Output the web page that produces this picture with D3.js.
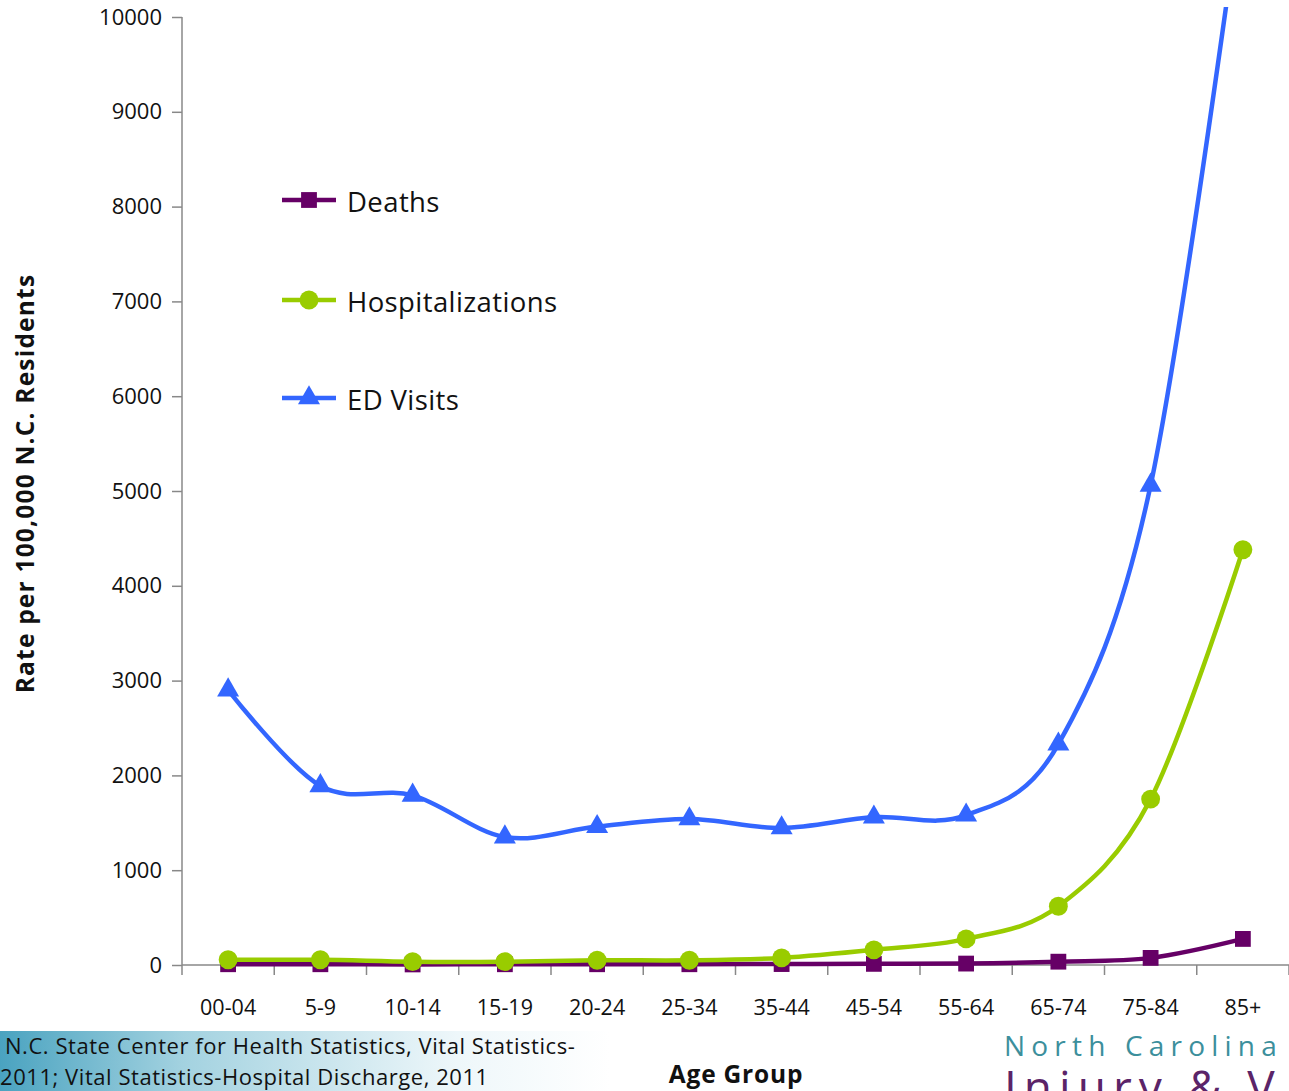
<!DOCTYPE html>
<html>
<head>
<meta charset="utf-8">
<script src="https://cdn.jsdelivr.net/npm/d3@7"></script>
<style>
  html, body { margin: 0; padding: 0; background: #fff; }
  svg { display: block; }
</style>
</head>
<body>
<svg id="chart" width="1289" height="1091"></svg>
<script>
// Injury rates by age group, per 100,000 N.C. residents
const ageGroups = ["00-04", "5-9", "10-14", "15-19", "20-24", "25-34", "35-44", "45-54", "55-64", "65-74", "75-84", "85+"];
const deaths = [8, 8, 6, 8, 8, 8, 10, 12, 15, 35, 75, 275];
const hospitalizations = [55, 55, 35, 35, 50, 50, 75, 160, 275, 620, 1750, 4380];
const edVisits = [2900, 1890, 1790, 1350, 1460, 1540, 1445, 1560, 1580, 2330, 5060, 11400];
const yTicks = [0, 1000, 2000, 3000, 4000, 5000, 6000, 7000, 8000, 9000, 10000];

const series = [
  { name: "Deaths", values: deaths, color: "#660066", marker: "square" },
  { name: "Hospitalizations", values: hospitalizations, color: "#99cc00", marker: "circle" },
  { name: "ED Visits", values: edVisits, color: "#3366ff", marker: "triangle" }
];

const svg = d3.select("#chart");
const font = "'Open Sans', 'Noto Sans', sans-serif";

const plotL = 182, plotR = 1289, plotT = 17, plotB = 965;
const x = d3.scaleBand().domain(ageGroups).range([plotL, plotR]);
const y = d3.scaleLinear().domain([0, 10000]).range([plotB, plotT]);

// Source note with fading background
const defs = svg.append("defs");
const grad = defs.append("linearGradient").attr("id", "srcFade").attr("x1", "0").attr("x2", "1");
grad.append("stop").attr("offset", "0").attr("stop-color", "#4aa3c0");
grad.append("stop").attr("offset", "0.3").attr("stop-color", "#a3d2e0");
grad.append("stop").attr("offset", "0.75").attr("stop-color", "#eef7fa");
grad.append("stop").attr("offset", "1").attr("stop-color", "#ffffff");
svg.append("rect").attr("x", 0).attr("y", 1031).attr("width", 610).attr("height", 60).attr("fill", "url(#srcFade)");
svg.append("text").attr("x", 5).attr("y", 1054).attr("font-family", font).attr("font-size", 22)
  .attr("letter-spacing", 0.55).attr("fill", "#111")
  .text("N.C. State Center for Health Statistics, Vital Statistics-");
svg.append("text").attr("x", 0).attr("y", 1085).attr("font-family", font).attr("font-size", 22)
  .attr("letter-spacing", 0.55).attr("fill", "#111")
  .text("2011; Vital Statistics-Hospital Discharge, 2011");

// Y axis
const yAxis = svg.append("g").attr("transform", `translate(${plotL},0)`)
  .call(d3.axisLeft(y).tickValues(yTicks).tickSize(10).tickSizeOuter(0).tickPadding(10).tickFormat(d3.format("d")));
yAxis.select(".domain").attr("stroke", "#888").attr("stroke-width", 1.5).attr("d", `M0,${plotB}V${plotT}`);
yAxis.selectAll(".tick line").attr("stroke", "#888").attr("stroke-width", 1.5);
yAxis.selectAll(".tick text").attr("font-family", font).attr("font-size", 22).attr("fill", "#111");

// X axis with ticks at group boundaries
const xAxis = svg.append("g").attr("transform", `translate(0,${plotB})`)
  .call(d3.axisBottom(x).tickSize(0).tickPadding(35));
xAxis.select(".domain").attr("stroke", "#888").attr("stroke-width", 1.5).attr("d", `M${plotL},0H${plotR}`);
xAxis.selectAll(".tick text").attr("font-family", font).attr("font-size", 21.5).attr("fill", "#111");
const bounds = ageGroups.map(g => x(g)).concat([plotR]);
xAxis.selectAll(".bound").data(bounds).enter().append("line")
  .attr("x1", d => d).attr("x2", d => d).attr("y1", 0).attr("y2", 10)
  .attr("stroke", "#888").attr("stroke-width", 1.5);

// Axis titles
svg.append("text").attr("transform", `translate(34,${(275 + 692) / 2}) rotate(-90)`)
  .attr("text-anchor", "middle").attr("font-family", font).attr("font-weight", "bold").attr("font-size", 24.5)
  .attr("letter-spacing", 1.2).attr("fill", "#111")
  .text("Rate per 100,000 N.C. Residents");
svg.append("text").attr("x", 736).attr("y", 1083).attr("text-anchor", "middle")
  .attr("font-family", font).attr("font-weight", "bold").attr("font-size", 24.5).attr("letter-spacing", 0.8).attr("fill", "#111")
  .text("Age Group");

// Plot clip so the steep curve is cut at the top edge
defs.append("clipPath").attr("id", "plotClip").append("rect")
  .attr("x", plotL).attr("y", 7).attr("width", plotR - plotL).attr("height", plotB - 7 + 30);

const cx = g => x(g) + x.bandwidth() / 2;
const line = d3.line().x((d, i) => cx(ageGroups[i])).y(d => y(d)).curve(d3.curveCatmullRom.alpha(0));

const sym = {
  square: d3.symbol().type(d3.symbolSquare).size(250),
  circle: d3.symbol().type(d3.symbolCircle).size(280),
  triangle: d3.symbol().type(d3.symbolTriangle).size(210)
};

const plot = svg.append("g").attr("clip-path", "url(#plotClip)");
series.forEach(s => {
  const g = plot.append("g");
  g.append("path").datum(s.values).attr("d", line).attr("fill", "none")
    .attr("stroke", s.color).attr("stroke-width", 4.5).attr("stroke-linejoin", "round");
  g.selectAll("path.mk").data(s.values).enter().append("path").attr("class", "mk")
    .attr("transform", (d, i) => `translate(${cx(ageGroups[i])},${y(d)})`)
    .attr("d", sym[s.marker]()).attr("fill", s.color);
});

// Legend
const legend = svg.append("g");
const legY = [200, 300, 398];
series.forEach((s, i) => {
  const row = legend.append("g").attr("transform", `translate(0,${legY[i]})`);
  row.append("line").attr("x1", 282).attr("x2", 336).attr("y1", 0).attr("y2", 0)
    .attr("stroke", s.color).attr("stroke-width", 4.5);
  row.append("path").attr("transform", "translate(309,0)").attr("d", sym[s.marker]()).attr("fill", s.color);
  row.append("text").attr("x", 347).attr("y", 12).attr("font-family", font).attr("font-size", 27.5)
    .attr("letter-spacing", 0.4).attr("fill", "#111")
    .text(s.name);
});

// Organisation wordmark
svg.append("text").attr("x", 1004).attr("y", 1056).attr("font-family", font).attr("font-size", 28)
  .attr("letter-spacing", 6.2).attr("fill", "#3c8f9c").text("North Carolina");
svg.append("text").attr("x", 1004).attr("y", 1104).attr("font-family", font).attr("font-size", 46)
  .attr("letter-spacing", 7).attr("fill", "#5b2468").text("Injury & V");
</script>
</body>
</html>
